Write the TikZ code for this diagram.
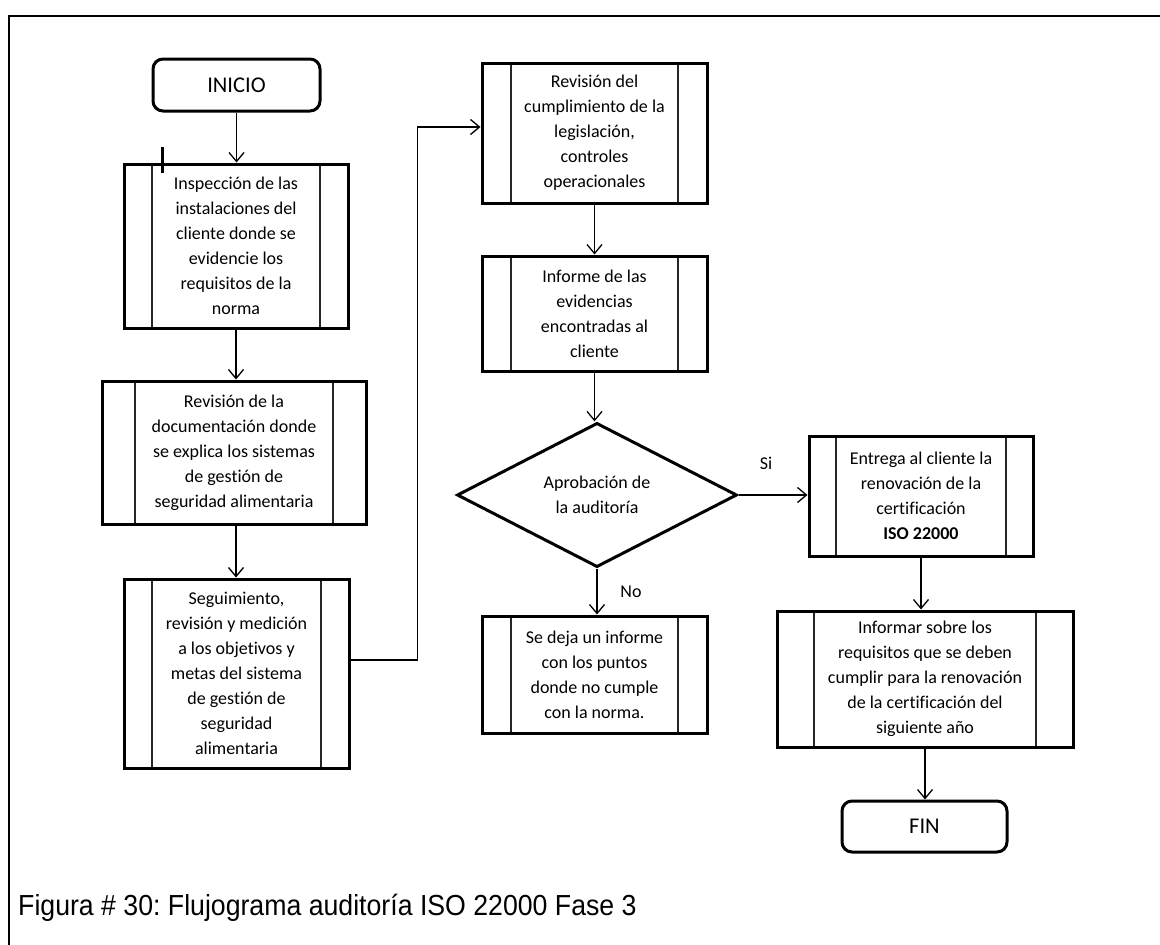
\documentclass[tikz,border=0pt]{standalone}
\usepackage{fontspec}
\setmainfont{Carlito}[Ligatures={NoCommon,TeX}]
\newfontfamily\capfont{Liberation Sans}
\usetikzlibrary{arrows.meta,shapes.geometric}
\frenchspacing

\newcommand{\boxfont}{\fontsize{18}{25}\selectfont}
\newcommand{\termfont}{\fontsize{22.5}{27}\selectfont}

\tikzset{
  proc/.style={draw, line width=3pt, inner sep=0pt, align=center, font=\boxfont,
    path picture={
      \draw[line width=2pt, black!85]
        ([xshift=#1]path picture bounding box.north west) --
        ([xshift=#1]path picture bounding box.south west);
      \draw[line width=2pt, black!85]
        ([xshift=-#1]path picture bounding box.north east) --
        ([xshift=-#1]path picture bounding box.south east);
    }},
  term/.style={draw, line width=3pt, rounded corners=10pt, inner sep=0pt, font=\termfont},
  decision/.style={draw, diamond, line width=3pt, inner sep=0pt, align=center, font=\boxfont},
  arr/.style={line width=1.3pt, -{Straight Barb[length=9pt,width=15pt]}},
  lbl/.style={font=\boxfont, inner sep=0pt}
}

\begin{document}
\begin{tikzpicture}[x=1pt, y=-1pt]
\useasboundingbox (0,0) rectangle (1160,945);

% page frame
\draw[line width=2.5pt] (9,945) -- (9,16) -- (1160,16);

% terminals
\node[term, minimum width=167pt, minimum height=52pt] (inicio) at (236.5,85) {INICIO};
\node[term, minimum width=165pt, minimum height=51pt] (fin) at (924.5,826.5) {FIN};

% left column
\node[proc=28pt, minimum width=224pt, minimum height=164pt] (b1) at (236,246)
  {Inspección de las\\instalaciones del\\cliente donde se\\evidencie los\\requisitos de la\\norma};
\node[proc=33pt, minimum width=264pt, minimum height=143pt] (b2) at (234,452.5)
  {Revisión de la\\documentación donde\\se explica los sistemas\\de gestión de\\seguridad alimentaria};
\node[proc=28pt, minimum width=225pt, minimum height=189pt] (b3) at (236.5,673.5)
  {Seguimiento,\\revisión y medición\\a los objetivos y\\metas del sistema\\de gestión de\\seguridad\\alimentaria};

% middle column
\node[proc=29pt, minimum width=225pt, minimum height=140pt] (b4) at (594.5,133)
  {Revisión del\\cumplimiento de la\\legislación,\\controles\\operacionales};
\node[proc=29pt, minimum width=225pt, minimum height=115pt] (b5) at (594.5,313.5)
  {Informe de las\\evidencias\\encontradas al\\cliente};
\node[decision, minimum width=280pt, minimum height=136pt] (dec) at (597,495)
  {Aprobación de\\la auditoría};
\node[proc=29pt, minimum width=225pt, minimum height=117pt] (b6) at (594.5,674.5)
  {Se deja un informe\\con los puntos\\donde no cumple\\con la norma.};

% right column
\node[proc=27pt, minimum width=224pt, minimum height=120pt] (b7) at (921,496)
  {Entrega al cliente la\\renovación de la\\certificación\hspace*{26pt}\\\textbf{ISO 22000}};
\node[proc=37pt, minimum width=296pt, minimum height=136pt] (b8) at (925,679)
  {Informar sobre los\\requisitos que se deben\\cumplir para la renovación\\de la certificación del\\siguiente año};

% branch labels
\node[lbl] (si) at (766,463) {Si};
\node[lbl] (no) at (631,592) {No};

% text cursor mark
\draw[line width=3pt] (162,147) -- (162,173);

% connectors
\draw[arr] (inicio.south) -- (inicio.south |- b1.north);
\draw[arr] (b1.south) -- (b1.south |- b2.north);
\draw[arr] (b2.south -| b1.south) -- (b1.south |- b3.north);
\draw[arr] ([yshift=13.5pt]b3.east) -- ++(67pt,0) |- ([yshift=6pt]b4.west);
\draw[arr] (b4.south) -- (b4.south |- b5.north);
\draw[arr] (b5.south) -- (b5.south |- dec.north);
\draw[arr] (dec.south) -- (dec.south |- b6.north);
\draw[arr] (dec.east) -- (dec.east -| b7.west);
\draw[arr] (b7.south) -- (b7.south |- b8.north);
\draw[arr] (b8.south) -- (b8.south |- fin.north);

% caption
\node[anchor=base west, inner sep=0pt, font=\capfont\fontsize{29}{32}\selectfont] (cap) at (18,915)
  {\scalebox{0.92}[1]{Figura \# 30: Flujograma auditoría ISO 22000 Fase 3}};
\end{tikzpicture}
\end{document}
